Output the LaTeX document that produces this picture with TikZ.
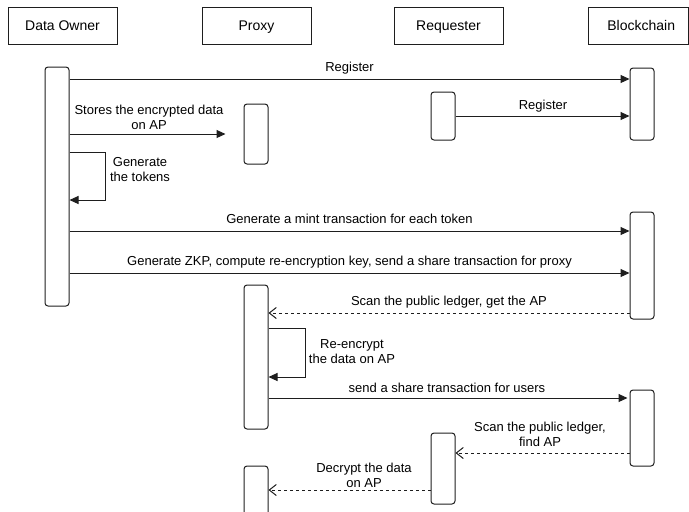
\documentclass[tikz,border=0pt]{standalone}
\usepackage{fontspec}
\setmainfont{Liberation Sans}
\usetikzlibrary{arrows.meta}
\begin{document}
\begin{tikzpicture}[x=1pt,y=-1pt, line width=1pt, draw={rgb,255:red,30;green,30;blue,30},
 head/.style={draw, minimum width=109pt, minimum height=37pt, inner sep=0pt, text height=10.1pt, text depth=0pt, font=\fontsize{14}{16}\selectfont},
 act/.style={draw, rounded corners=3pt, minimum width=24pt, inner sep=0pt},
 msg/.style={-{Triangle[length=9pt,width=8pt]}},
 ret/.style={dash pattern=on 3pt off 3pt, -{Straight Barb[length=7pt,width=11pt]}},
 lbl/.style={font=\fontsize{13}{15}\selectfont, align=center, inner sep=0pt},
]
\useasboundingbox (0,0) rectangle (689,512);
% headers
\node[head] (do) at (62.5,25.5) {Data Owner};
\node[head] (px) at (256.5,25.5) {Proxy};
\node[head] (rq) at (448.5,25.5) {Requester};
\node[head, minimum width=100.5pt] (bc) at (638.25,25.5) {\hspace*{6pt}Blockchain};
% activations
\node[act, minimum height=239pt] (doA) at (57,186.5) {};
\node[act, minimum height=60pt] (pA1) at (256,134) {};
\node[act, minimum height=48pt] (rA1) at (443,116) {};
\node[act, minimum height=72pt] (bA1) at (642,104) {};
\node[act, minimum height=107pt] (bA2) at (642,265.5) {};
\node[act, minimum height=144pt] (pA2) at (256,357) {};
\node[act, minimum height=76pt] (bA3) at (642,428) {};
\node[act, minimum height=71pt] (rA2) at (443,468.5) {};
\node[act, minimum height=54pt] (pA3) at (256,493) {};
% messages
\draw[msg] (doA.east |- 0,79) -- (bA1.west |- 0,79);
\node[lbl] (l1) at (349.5,68) {Register};
\coordinate (st) at ([xshift=-18pt]pA1.west |- 0,134);
\draw[msg] (doA.east |- 0,134) -- (st);
\node[lbl] (l2) at (149,117) {Stores the encrypted data\\on AP};
\draw[msg] (rA1.east |- 0,116) -- (bA1.west |- 0,116);
\node[lbl] (l3) at (543,106) {Register};
\coordinate (lp1) at (105,152);
\coordinate (lp2) at (105,200);
\draw[msg] (doA.east |- lp1) -- (lp1) -- (lp2) -- (doA.east |- lp2);
\node[lbl] (l4) at (140,170) {Generate\\the tokens};
\draw[msg] (doA.east |- 0,231) -- (bA2.west |- 0,231);
\node[lbl] (l5) at (349.5,219) {Generate a mint transaction for each token};
\draw[msg] (doA.east |- 0,273) -- (bA2.west |- 0,273);
\node[lbl] (l6) at (349.5,262) {Generate ZKP, compute re-encryption key, send a share transaction for proxy};
\draw[ret] (bA2.west |- 0,313) -- (pA2.east |- 0,313);
\node[lbl] (l7) at (449,302) {Scan the public ledger, get the AP};
\coordinate (lp3) at (305,328);
\coordinate (lp4) at (305,377);
\draw[msg] (pA2.east |- lp3) -- (lp3) -- (lp4) -- (pA2.east |- lp4);
\node[lbl] (l8) at (352,351.5) {Re-encrypt\\the data on AP};
\coordinate (su) at ([xshift=-2pt]bA3.west |- 0,398);
\draw[msg] (pA2.east |- 0,398) -- (su);
\node[lbl] (l9) at (447,388) {send a share transaction for users};
\draw[ret] (bA3.west |- 0,453) -- (rA2.east |- 0,453);
\node[lbl] (l10) at (540,434.5) {Scan the public ledger,\\find AP};
\draw[ret] (rA2.west |- 0,490) -- (pA3.east |- 0,490);
\node[lbl] (l11) at (364,475.5) {Decrypt the data\\on AP};
\end{tikzpicture}
\end{document}
